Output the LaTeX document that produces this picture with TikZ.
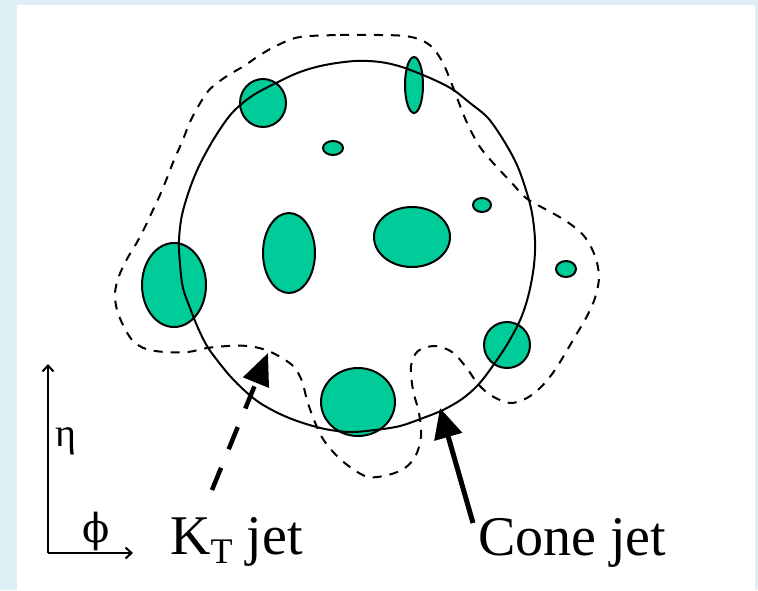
\documentclass[tikz,border=0pt]{standalone}
\usepackage{fontspec}
\setmainfont{Liberation Serif}
\newfontfamily\greekfont{DejaVu Serif}
\usetikzlibrary{arrows.meta}
\definecolor{jetgreen}{RGB}{0,204,153}
\definecolor{bgblue}{RGB}{222,240,245}
\begin{document}
\begin{tikzpicture}[x=1pt,y=-1pt,
  blob/.style={draw=black, line width=2pt, fill=jetgreen},
  conecurve/.style={draw=black, line width=2pt},
  ktcurve/.style={draw=black, line width=2pt, dash pattern=on 9pt off 8pt},
  axisline/.style={line width=2pt, -{Straight Barb[length=6pt,width=11pt]}},
  lbl/.style={font=\fontsize{56}{60}\selectfont, inner sep=0pt, anchor=base west},
  greek/.style={font=\fontsize{40}{42}\selectfont, inner sep=0pt},
]
% background
\fill[bgblue] (0,0) rectangle (758,590);
\fill[white] (17,5) rectangle (755,590);
\useasboundingbox (0,0) rectangle (758,590);

% green blobs
\draw[blob] (263,103) ellipse [x radius=23, y radius=24];
\draw[blob] (414,85) ellipse [x radius=9, y radius=28];
\draw[blob] (333,148) ellipse [x radius=10, y radius=7];
\draw[blob] (289,253) ellipse [x radius=26, y radius=40];
\draw[blob] (412,237) ellipse [x radius=38, y radius=30];
\draw[blob] (482,205) ellipse [x radius=9, y radius=7];
\draw[blob] (566,269) ellipse [x radius=10, y radius=8];
\draw[blob] (174,285) ellipse [x radius=32, y radius=42];
\draw[blob] (358,402) ellipse [x radius=37, y radius=34];
\draw[blob] (507,345) ellipse [x radius=23, y radius=23];

% cone jet (solid contour)
\draw[conecurve] plot[smooth cycle, tension=0.55] coordinates {
 (355,61) (380,62) (402,67) (430,78) (452,89) (470,103) (488,118) (504,141)
 (517,165) (526,190) (532,213) (535,240) (534,265) (529,293) (521,318) (508,343)
 (492,367) (478,385) (462,399) (443,410) (423,418) (400,426) (375,430) (350,432)
 (325,429) (300,422) (280,414) (260,403) (245,391) (230,376) (217,360) (207,346)
 (198,328) (190,308) (183,288) (180,264) (179,240) (182,215) (190,188) (200,164)
 (215,137) (232,113) (252,96) (276,83) (300,72) (325,65)};

% kT jet (dashed contour)
\draw[ktcurve] plot[smooth cycle, tension=0.55] coordinates {
 (300,37) (340,35) (380,35) (405,36) (421,40) (433,48) (443,63) (451,82)
 (459,103) (468,125) (480,147) (495,165) (511,182) (526,198) (545,209) (566,221)
 (584,236) (595,256) (599,277) (595,298) (586,318) (576,335) (566,352) (555,370)
 (542,386) (527,398) (510,403) (492,396) (478,384) (466,367) (452,352) (435,346)
 (418,351) (411,366) (413,390) (419,413) (421,436) (416,455) (405,468) (388,475)
 (368,477) (350,467) (336,455) (323,439) (314,420) (307,400) (302,381) (294,367)
 (282,358) (266,350) (248,346) (228,346) (207,348) (188,352) (165,352) (146,349)
 (133,341) (124,327) (117,310) (115,293) (119,276) (127,259) (136,244) (144,229)
 (152,212) (160,195) (167,178) (174,160) (182,142) (190,122) (199,105) (210,89)
 (227,76) (244,66) (260,55) (278,45)};

% axes
\coordinate (origin) at (48,553);
\coordinate (etaend) at (48,364);
\coordinate (phiend) at (133,553);
\draw[axisline] (origin) -- (etaend);
\draw[axisline] (origin) -- (phiend);
\node[greek] (eta) at (66,441) {η};
\node[greek] (phi) at (96,531) {\fontsize{40}{42}\greekfont ϕ};

% arrows
\coordinate (kttail) at (212,490);
\coordinate (kttip) at (268,353);
\draw[line width=4.5pt, dash pattern=on 24pt off 20pt,
      -{Triangle[length=32pt,width=27pt]}] (kttail) -- (kttip);
\coordinate (conetail) at (473,523);
\coordinate (conetip) at (440,408);
\draw[line width=5pt, -{Triangle[length=30pt,width=28pt]}] (conetail) -- (conetip);

% labels
\node[lbl] (ktlabel) at (170,554) {K\raisebox{-9pt}{\fontsize{36}{38}\selectfont T} jet};
\node[lbl] (conelabel) at (478,555) {Cone jet};
\end{tikzpicture}
\end{document}
